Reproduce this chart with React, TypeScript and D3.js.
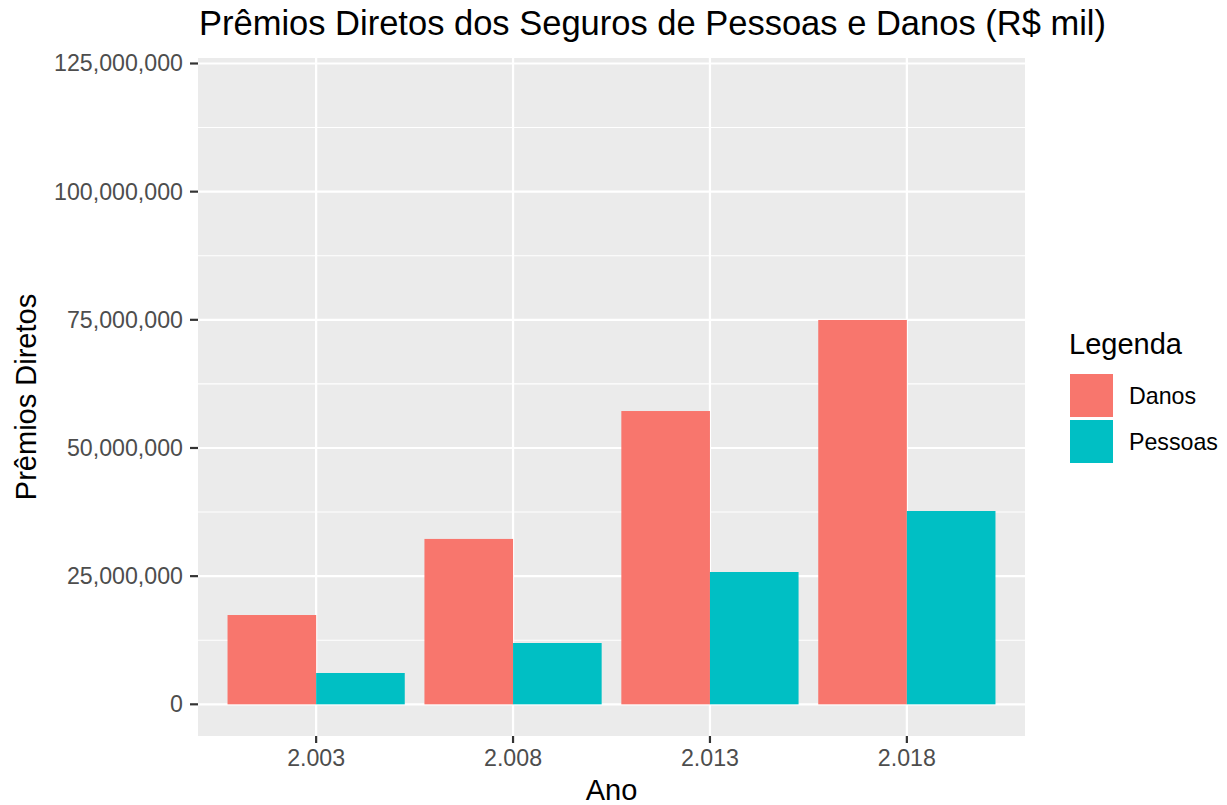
import React from "react";
import * as d3 from "d3";

// valores (R$ mil)
const anos = ["2.003", "2.008", "2.013", "2.018"];
const series = ["Danos", "Pessoas"];
const danos = [17420000, 32260000, 57210000, 74970000];
const pessoas = [6110000, 11960000, 25810000, 37710000];
const yTicks = [0, 25000000, 50000000, 75000000, 100000000, 125000000];
const yMinor = [12500000, 37500000, 62500000, 87500000, 112500000];
const cores = ["#F8766D", "#00BFC4"];

const W = 1227;
const H = 805;
const panel = { left: 198, right: 1025, top: 58, bottom: 736 };
const font = "'Liberation Sans', Arial, Helvetica, sans-serif";

export default function App() {
  const x = d3
    .scaleBand<string>()
    .domain(anos)
    .range([panel.left, panel.right])
    .paddingInner(0.1)
    .paddingOuter(0.15);

  const xSub = d3
    .scaleBand<string>()
    .domain(series)
    .range([0, x.bandwidth()])
    .padding(0);

  const y = d3
    .scaleLinear()
    .domain([-6180000, 126070000])
    .range([panel.bottom, panel.top]);

  const color = d3.scaleOrdinal<string, string>().domain(series).range(cores);
  const fmt = d3.format(",");

  const rows = anos.map((a, i) => ({ ano: a, values: [danos[i], pessoas[i]] }));
  const center = (a: string) => (x(a) ?? 0) + x.bandwidth() / 2;

  return (
    <svg
      width={W}
      height={H}
      style={{ position: "absolute", left: 0, top: 0, background: "#fff" }}
      fontFamily={font}
    >
      {/* painel */}
      <rect
        x={panel.left}
        y={panel.top}
        width={panel.right - panel.left}
        height={panel.bottom - panel.top}
        fill="#EBEBEB"
      />
      {yMinor.map((v) => (
        <line key={"mn" + v} x1={panel.left} x2={panel.right} y1={y(v)} y2={y(v)} stroke="#fff" strokeWidth={1.1} />
      ))}
      {yTicks.map((v) => (
        <line key={"mj" + v} x1={panel.left} x2={panel.right} y1={y(v)} y2={y(v)} stroke="#fff" strokeWidth={2.2} />
      ))}
      {anos.map((a) => (
        <line key={"vx" + a} x1={center(a)} x2={center(a)} y1={panel.top} y2={panel.bottom} stroke="#fff" strokeWidth={2.2} />
      ))}

      {/* barras */}
      {rows.map((r) =>
        r.values.map((v, j) => (
          <rect
            key={r.ano + series[j]}
            x={(x(r.ano) ?? 0) + (xSub(series[j]) ?? 0)}
            y={y(v)}
            width={xSub.bandwidth()}
            height={y(0) - y(v)}
            fill={color(series[j])}
          />
        ))
      )}

      {/* eixo y */}
      {yTicks.map((v) => (
        <g key={"yt" + v}>
          <line x1={panel.left - 8} x2={panel.left} y1={y(v)} y2={y(v)} stroke="#333333" strokeWidth={2.2} />
          <text
            x={panel.left - 15}
            y={y(v)}
            textAnchor="end"
            dominantBaseline="central"
            fontSize={23.2}
            fill="#4D4D4D"
          >
            {fmt(v)}
          </text>
        </g>
      ))}

      {/* eixo x */}
      {anos.map((a) => (
        <g key={"xt" + a}>
          <line x1={center(a)} x2={center(a)} y1={panel.bottom} y2={panel.bottom + 7} stroke="#333333" strokeWidth={2.2} />
          <text x={center(a)} y={766} textAnchor="middle" fontSize={23.2} fill="#4D4D4D">
            {a}
          </text>
        </g>
      ))}

      {/* títulos */}
      <text x={panel.left + 1} y={35} fontSize={34.5} fill="#000">
        Prêmios Diretos dos Seguros de Pessoas e Danos (R$ mil)
      </text>
      <text x={(panel.left + panel.right) / 2} y={800} textAnchor="middle" fontSize={29} fill="#000">
        Ano
      </text>
      <text
        transform={`translate(36, ${(panel.top + panel.bottom) / 2}) rotate(-90)`}
        textAnchor="middle"
        fontSize={29}
        fill="#000"
      >
        Prêmios Diretos
      </text>

      {/* legenda */}
      <text x={1069} y={354} fontSize={29} fill="#000">
        Legenda
      </text>
      {series.map((s, i) => (
        <g key={"lg" + s} transform={`translate(1070, ${374 + i * 46})`}>
          <rect width={43} height={43} fill={color(s)} />
          <text x={59} y={22} dominantBaseline="central" fontSize={23.2} fill="#000">
            {s}
          </text>
        </g>
      ))}
    </svg>
  );
}
